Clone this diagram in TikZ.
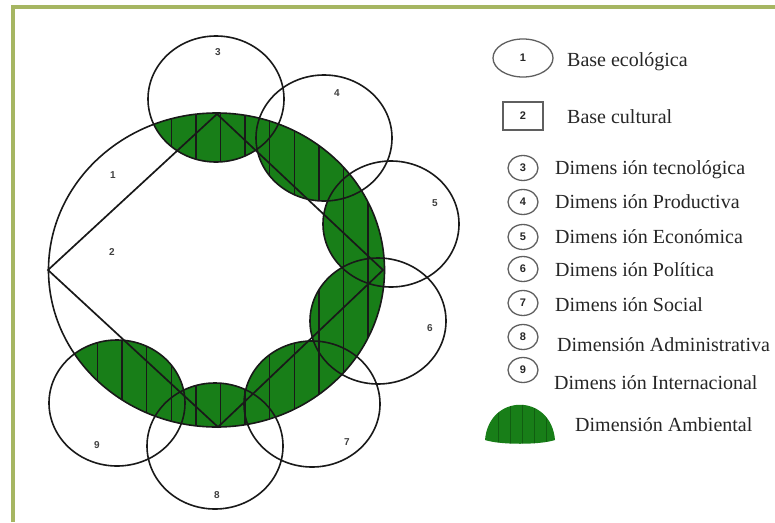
\documentclass[tikz,border=0pt]{standalone}
\usepackage{fontspec}
\setmainfont{Liberation Serif}
\newfontfamily\numfont{Liberation Sans}
\usetikzlibrary{shapes.geometric}
\definecolor{ambgreen}{RGB}{24,126,24}
\definecolor{framegreen}{RGB}{166,182,98}
\definecolor{legendgray}{RGB}{95,95,95}
\begin{document}
\begin{tikzpicture}[x=1pt,y=-1pt,
  outline/.style={draw=black!90, line width=1.6pt},
  diag/.style={draw=black!90, line width=1.7pt},
  hatch/.style={draw=black!90, line width=1.3pt},
  numlbl/.style={font=\numfont\bfseries\fontsize{10}{10}\selectfont, text=black!75, inner sep=0pt},
  legnum/.style={font=\numfont\bfseries\fontsize{11}{11}\selectfont, text=black!85},
  legtext/.style={font=\fontsize{20}{20}\selectfont, anchor=base west, inner sep=0pt, text=black!85},
  legcirc/.style={ellipse, draw=legendgray, line width=1.3pt, minimum width=30pt, minimum height=25pt, inner sep=0pt},
  framestroke/.style={draw=framegreen, line width=4pt}
]
\useasboundingbox (0,0) rectangle (775,522);
\fill[white] (0,0) rectangle (775,522);
% frame
\draw[framestroke] (13,522) -- (13,7) -- (775,7);

% green area: big ellipse intersected with the union of the small circles
\begin{scope}
  \clip (216.5,270) ellipse [x radius=168pt, y radius=157pt];
  \foreach \cx/\cy in {216/99,324/138,391/224,378/321,312/404,215/446,117/403}
    \fill[ambgreen] (\cx,\cy) ellipse [x radius=68pt, y radius=63pt];
\end{scope}
% vertical hatching inside the green area
\foreach \cx/\cy in {216/99,324/138,391/224,378/321,312/404,215/446,117/403}{
  \begin{scope}
    \clip (216.5,270) ellipse [x radius=168pt, y radius=157pt];
    \clip (\cx,\cy) ellipse [x radius=68pt, y radius=63pt];
    \foreach \k in {0,...,11}
      \draw[hatch] ({97.5+24.6*\k},100) -- ({97.5+24.6*\k},440);
  \end{scope}
}
% outlines
\draw[outline] (216.5,270) ellipse [x radius=168pt, y radius=157pt];
\foreach \cx/\cy in {216/99,324/138,391/224,378/321,312/404,215/446,117/403}
  \draw[outline] (\cx,\cy) ellipse [x radius=68pt, y radius=63pt];
\draw[diag] (48,270) -- (217,114) -- (383,270) -- (218,427) -- cycle;

% diagram labels
\node[numlbl] (d1) at (113,175) {1};
\node[numlbl] (d2) at (112,252) {2};
\node[numlbl] (d3) at (218,52) {3};
\node[numlbl] (d4) at (337,93) {4};
\node[numlbl] (d5) at (435,203) {5};
\node[numlbl] (d6) at (430,328) {6};
\node[numlbl] (d7) at (347,442) {7};
\node[numlbl] (d8) at (217,495) {8};
\node[numlbl] (d9) at (97,445) {9};

% legend
\node[ellipse, draw=legendgray, line width=1.3pt, minimum width=60pt, minimum height=38pt, inner sep=0pt, legnum] (l1) at (523,58) {1};
\node[legtext] (t1) at (567,66) {Base ecológica};
\node[rectangle, draw=legendgray, line width=1.3pt, minimum width=40pt, minimum height=28pt, inner sep=0pt, legnum] (l2) at (523,116) {2};
\node[legtext] (t2) at (567,123) {Base cultural};

\node[legcirc, legnum] (l3) at (523,168) {3};
\node[legtext] (t3) at (555,174) {Dimens ión tecnológica};
\node[legcirc, legnum] (l4) at (523,202) {4};
\node[legtext] (t4) at (555,208) {Dimens ión Productiva};
\node[legcirc, legnum] (l5) at (523,237) {5};
\node[legtext] (t5) at (555,243) {Dimens ión Económica};
\node[legcirc, legnum] (l6) at (523,269) {6};
\node[legtext] (t6) at (555,276) {Dimens ión Política};
\node[legcirc, legnum] (l7) at (523,303) {7};
\node[legtext] (t7) at (555,311) {Dimens ión Social};
\node[legcirc, legnum] (l8) at (523,337) {8};
\node[legtext] (t8) at (557,351) {Dimensión Administrativa};
\node[legcirc, legnum] (l9) at (523,370) {9};
\node[legtext] (t9) at (554,389) {Dimens ión Internacional};

% legend dome
\fill[ambgreen] (485,440) .. controls (489,393) and (551,393) .. (555,440) .. controls (540,445) and (500,445) .. cycle;
\begin{scope}
  \clip (485,440) .. controls (489,393) and (551,393) .. (555,440) .. controls (540,445) and (500,445) .. cycle;
  \foreach \x in {498,510,522,534,546}
    \draw[black, opacity=0.25, line width=1pt] (\x,395) -- (\x,446);
\end{scope}
\node[legtext] (t10) at (575,431) {Dimensión Ambiental};
\end{tikzpicture}
\end{document}
